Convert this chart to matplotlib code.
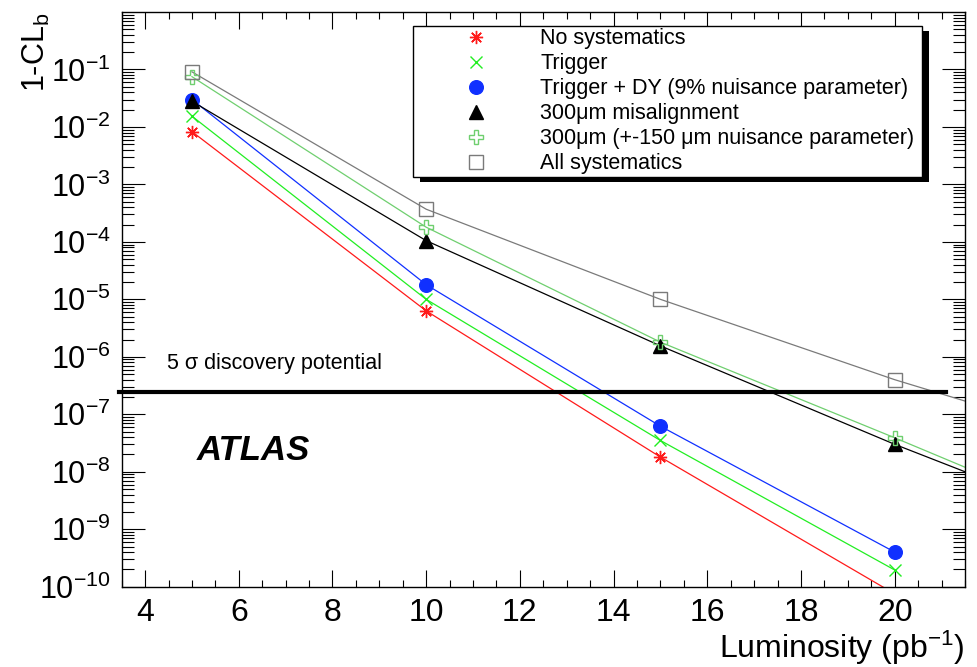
import matplotlib
matplotlib.use('Agg')
import matplotlib.pyplot as plt
import numpy as np
from matplotlib.patches import Rectangle
from matplotlib.ticker import LogLocator, MultipleLocator, NullFormatter

plt.rcParams['font.family'] = ['Liberation Sans', 'DejaVu Sans']
plt.rcParams['mathtext.fontset'] = 'custom'
plt.rcParams['mathtext.rm'] = 'Liberation Sans'
plt.rcParams['mathtext.it'] = 'Liberation Sans:italic'
plt.rcParams['mathtext.bf'] = 'Liberation Sans:bold'

# luminosity points (pb^-1) and 1-CL_b
lumi = [5, 10, 15, 20]
no_syst = [8.3e-3, 6.3e-6, 1.8e-8, 7.5e-11]
trigger = [1.54e-2, 1.0e-5, 3.5e-8, 1.95e-10]
trigger_dy = [3.0e-2, 1.8e-5, 6.2e-8, 4.0e-10]
misalign = [2.8e-2, 1.05e-4, 1.55e-6, 3.0e-8]
misalign_np = [7.5e-2, 1.8e-4, 1.8e-6, 3.9e-8]
all_syst = [9.1e-2, 3.7e-4, 1.0e-5, 4.0e-7]

# where the curves that run past 20 pb^-1 meet the right edge
lumi_tail = 21.5
misalign_tail = 1.0e-8
misalign_np_tail = 1.2e-8
all_syst_tail = 1.7e-7

sigma5 = 2.45e-7
sigma5_x = [3.45, 21.1]

x_ticks = [4, 6, 8, 10, 12, 14, 16, 18, 20]
y_ticks = [1e-10, 1e-9, 1e-8, 1e-7, 1e-6, 1e-5, 1e-4, 1e-3, 1e-2, 1e-1]
y_labels = [r'$10^{-10}$', r'$10^{-9}$', r'$10^{-8}$', r'$10^{-7}$', r'$10^{-6}$',
            r'$10^{-5}$', r'$10^{-4}$', r'$10^{-3}$', r'$10^{-2}$', r'$10^{-1}$']

labels = ['No systematics', 'Trigger', 'Trigger + DY (9% nuisance parameter)',
          '300\u03bcm misalignment', '300\u03bcm (+-150 \u03bcm nuisance parameter)',
          'All systematics']

fig = plt.figure(figsize=(9.78, 6.67), dpi=100)
ax = fig.add_axes([0.1244, 0.1204, 0.8623, 0.8616])
ax.set_yscale('log')

red = '#ff1a1a'
green = '#22ee22'
blue = '#1030ff'
lgreen = '#6fcf6f'
grey = '#7a7a7a'

# curves
ax.plot(lumi, no_syst, color=red, lw=0.9)
ax.plot(lumi, trigger, color=green, lw=0.9)
ax.plot(lumi, trigger_dy, color=blue, lw=0.9)
ax.plot(lumi + [lumi_tail], misalign + [misalign_tail], color='black', lw=0.9)
ax.plot(lumi + [lumi_tail], misalign_np + [misalign_np_tail], color=lgreen, lw=0.9)
ax.plot(lumi + [lumi_tail], all_syst + [all_syst_tail], color=grey, lw=0.9)

# markers
ax.plot(lumi, no_syst, ls='none', marker=(8, 2, 0), ms=9.5, mew=1, color=red, label=labels[0])
ax.plot(lumi, trigger, ls='none', marker='x', ms=9, mew=1, color=green, label=labels[1])
ax.plot(lumi, trigger_dy, ls='none', marker='o', ms=9.8, color=blue, label=labels[2])
ax.plot(lumi, misalign, ls='none', marker='^', ms=10, color='black', label=labels[3])
ax.plot(lumi, misalign_np, ls='none', marker='P', ms=10, mfc='none', mec=lgreen, mew=1,
        label=labels[4])
ax.plot(lumi, all_syst, ls='none', marker='s', ms=10, mfc='none', mec=grey, mew=1,
        label=labels[5])

ax.plot(sigma5_x, [sigma5, sigma5], color='black', lw=3, clip_on=False, zorder=3)
ax.text(4.47, 7.5e-7, '5 \u03c3 discovery potential', fontsize=15.5, va='center')
ax.text(5.11, 2.36e-8, 'ATLAS', fontsize=25, fontweight='bold', fontstyle='italic',
        va='center')

ax.set_xlim(3.5, 21.5)
ax.set_ylim(1e-10, 1)
ax.set_xticks(x_ticks)
ax.xaxis.set_minor_locator(MultipleLocator(0.5))
ax.set_yticks(y_ticks)
ax.set_yticklabels(y_labels)
ax.yaxis.set_minor_locator(LogLocator(base=10, subs=np.arange(2, 10), numticks=20))
ax.yaxis.set_minor_formatter(NullFormatter())

ax.tick_params(which='both', direction='in', top=True, right=True, width=0.8)
ax.tick_params(axis='x', which='major', length=12.2, labelsize=23, pad=8.5)
ax.tick_params(axis='x', which='minor', length=5)
ax.tick_params(axis='y', which='major', length=16.5, labelsize=22, pad=8)
ax.tick_params(axis='y', which='minor', length=8.6)
for s in ax.spines.values():
    s.set_linewidth(1.0)

ax.set_xlabel(r'Luminosity (pb$^{\mathrm{-1}}$)', fontsize=23, loc='right', labelpad=0.5)
ax.set_ylabel(r'1-CL$_{\mathrm{b}}$', fontsize=22, loc='top')
ax.yaxis.set_label_coords(-0.083, 1.0)

leg = ax.legend(loc='upper left', bbox_to_anchor=(0.3458, 0.7134, 0.6032, 0.2628),
                mode='expand', borderaxespad=0, fontsize=15.5, fancybox=False,
                edgecolor='black', framealpha=1, handlelength=5.58, handletextpad=0.2,
                borderpad=0.12, labelspacing=0.186, numpoints=1)
leg.get_frame().set_linewidth(1.0)

# ROOT-style drop shadow behind the legend box
fig.canvas.draw()
bb = leg.get_window_extent()
shadow = Rectangle((bb.x0 + 7, bb.y0 - 5), bb.width, bb.height, transform=None,
                   facecolor='black', edgecolor='none', zorder=leg.get_zorder() - 0.1)
ax.add_patch(shadow)

fig.savefig('out.png', dpi=100)
